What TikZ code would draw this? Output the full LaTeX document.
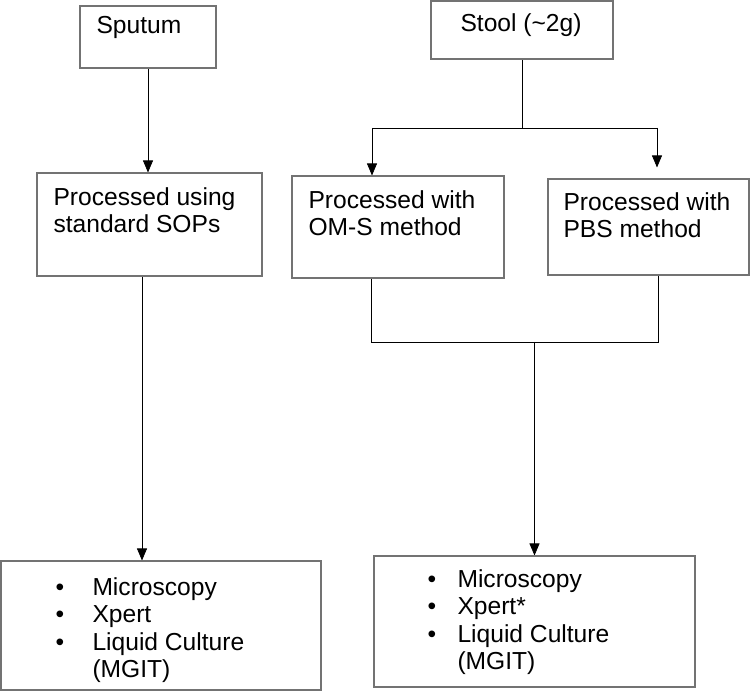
\documentclass[tikz,border=0pt]{standalone}
\usepackage{fontspec}
\setmainfont{Liberation Sans}
\usetikzlibrary{arrows.meta}
\pgfdeclarelayer{bg}
\pgfsetlayers{bg,main}
\tikzset{
    every node/.style={inner sep=0mm, font=\fontsize{14}{15.6}\selectfont}
}
\tikzset{box/.style={rectangle, draw=black!55, line width=0.6pt}}
\tikzset{txt/.style={anchor=north west, align=left}}
\tikzset{arr/.style={-{Triangle[length=0.24cm, width=0.2cm]}}}
\newcommand{\bul}{\textbullet}

\begin{document}
\begin{tikzpicture}[line width=0.6pt]
        \useasboundingbox (0cm, 0cm) rectangle (15cm, -13.84cm);
        \node (sputum) [box, minimum width=2.72cm, minimum height=1.24cm] at (2.96cm, -0.74cm) {};
        \node (stool) [box, minimum width=3.64cm, minimum height=1.16cm] at (10.44cm, -0.60cm) {};
        \node (sop) [box, minimum width=4.50cm, minimum height=2.06cm] at (2.99cm, -4.49cm) {};
        \node (oms) [box, minimum width=4.24cm, minimum height=2.04cm] at (7.96cm, -4.54cm) {};
        \node (pbs) [box, minimum width=4.02cm, minimum height=1.92cm] at (12.97cm, -4.54cm) {};
        \node (outl) [box, minimum width=6.40cm, minimum height=2.58cm] at (3.22cm, -12.51cm) {};
        \node (outr) [box, minimum width=6.42cm, minimum height=2.62cm] at (10.69cm, -12.43cm) {};
        \node (sputumt) [txt] at (1.92cm, -0.27cm) {\strut Sputum};
        \node (stoolt) [txt] at (9.20cm, -0.23cm) {\strut Stool (\textasciitilde 2g)};
        \node (sopt) [txt] at (1.06cm, -3.71cm) {\strut Processed using\\standard SOPs};
        \node (omst) [txt] at (6.16cm, -3.77cm) {\strut Processed with\\OM-S method};
        \node (pbst) [txt] at (11.26cm, -3.81cm) {\strut Processed with\\PBS method};
        \node (outlt) [txt] at (1.10cm, -11.51cm) {\begin{tabular}{@{}p{0.74cm}@{}l@{}}
                \bul & Microscopy\\ \bul & Xpert\\ \bul & Liquid Culture\\ & (MGIT)
        \end{tabular}};
        \node (outrt) [txt] at (8.54cm, -11.35cm) {\begin{tabular}{@{}p{0.60cm}@{}l@{}}
                \bul & Microscopy\\ \bul & Xpert*\\ \bul & Liquid Culture\\ & (MGIT)
        \end{tabular}};
        \coordinate (split) at (10.44cm, -2.56cm);
        \coordinate (omsin) at (7.44cm, -2.56cm);
        \coordinate (pbsin) at (13.14cm, -2.56cm);
        \coordinate (omsout) at (7.42cm, -6.84cm);
        \coordinate (pbsout) at (13.16cm, -6.84cm);
        \coordinate (sopout) at (2.84cm, -5.52cm);
        \begin{pgfonlayer}{bg}
                \draw [arr] (sputum) -- (sputum |- sop.north);
                \draw (stool) -- (split);
                \draw (omsin) -- (pbsin);
                \draw [arr] (omsin) -- (omsin |- oms.north);
                \draw [arr, shorten >=0.22cm] (pbsin) -- (pbsin |- pbs.north);
                \draw (omsout |- oms.south) -- (omsout) -- (pbsout) -- (pbsout |- pbs.south);
                \draw [arr] (outr |- omsout) -- (outr);
                \draw [arr] (sopout |- sop.south) -- (sopout |- outl.north);
        \end{pgfonlayer}
\end{tikzpicture}
\end{document}
